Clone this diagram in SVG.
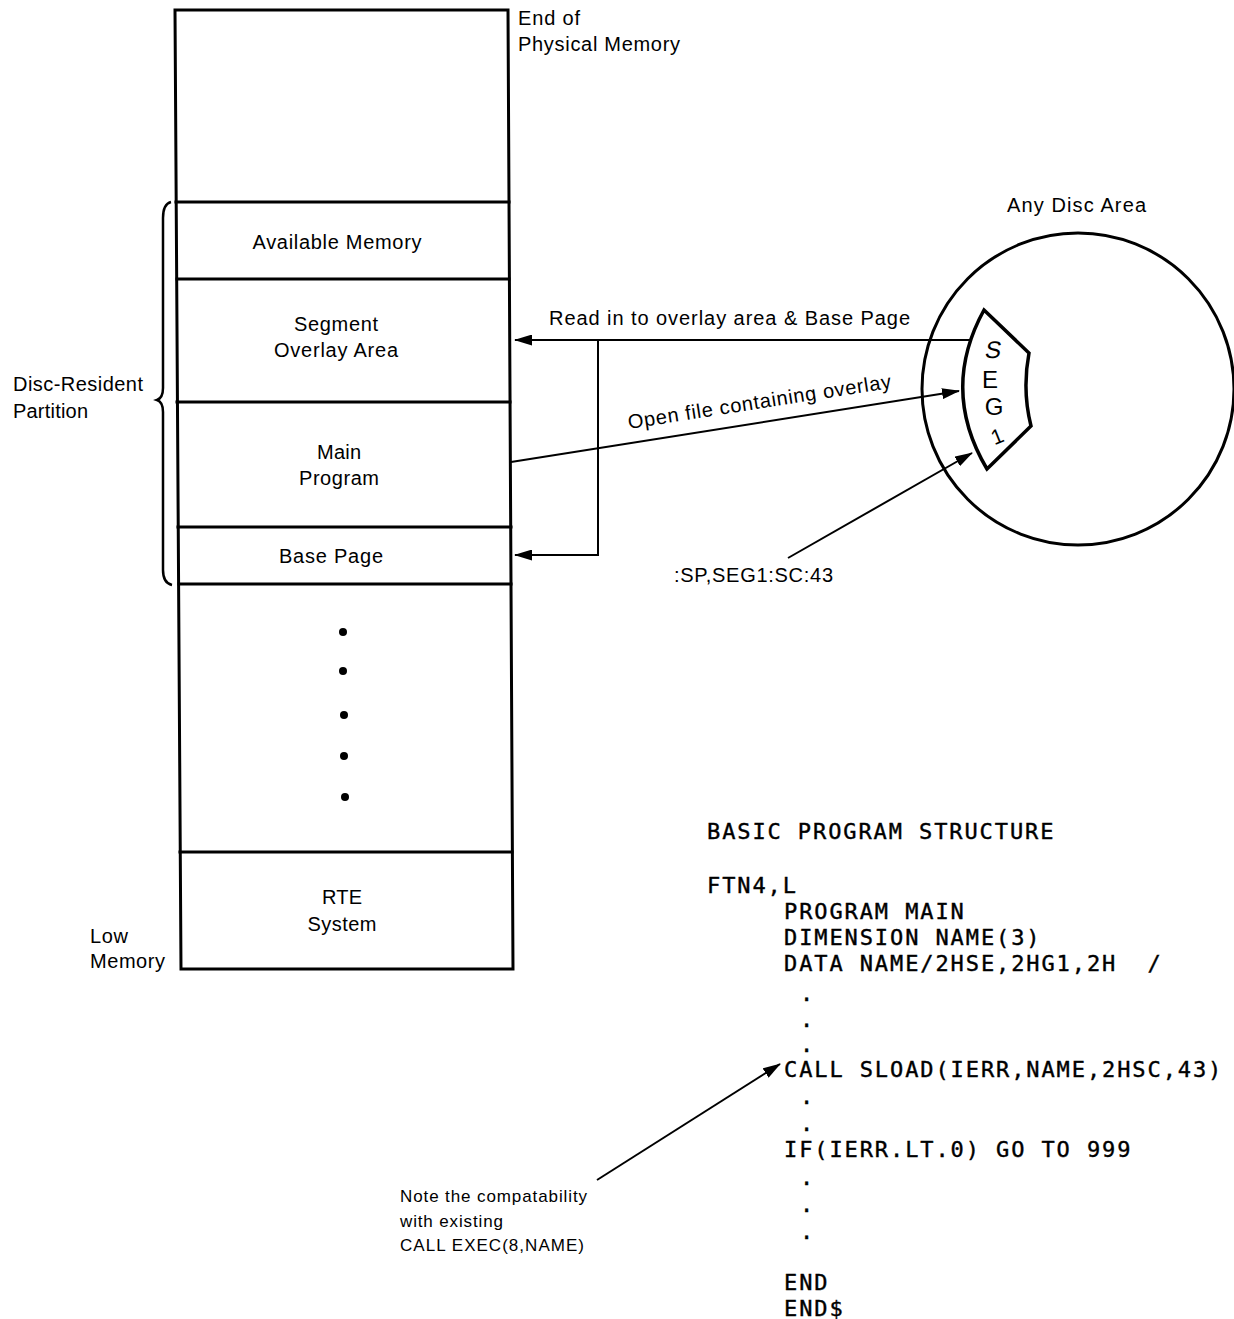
<svg xmlns="http://www.w3.org/2000/svg" width="1234" height="1319" viewBox="0 0 1234 1319">
<style>
.bx{fill:none;stroke:#000;stroke-width:3;stroke-linecap:square}
.ln{fill:none;stroke:#000;stroke-width:2}
.t{font-family:"Liberation Sans",Arial,sans-serif;font-size:20px;fill:#000}
.ts{font-family:"Liberation Sans",Arial,sans-serif;font-size:17px;fill:#000}
.sg{font-family:"Liberation Sans",Arial,sans-serif;font-size:24px;fill:#000;text-anchor:middle}
.mono{font-family:"DejaVu Sans Mono","Liberation Mono",monospace;font-size:22px;letter-spacing:1.9px;fill:#000;white-space:pre;stroke:#000;stroke-width:0.4}
.c{text-anchor:middle}
</style>
<defs>
<marker id="ah" markerWidth="18" markerHeight="11" refX="17" refY="5.5" orient="auto" markerUnits="userSpaceOnUse">
<path d="M0,0 L18,5.5 L0,11 Z" fill="#000"/>
</marker>
</defs>
<rect x="0" y="0" width="1234" height="1319" fill="#fff"/>

<g id="memory-column">
<path class="bx" d="M175,10 L508,10 L513,969 L181,969 Z"/>
<g id="end-of-physical-memory">
<text class="t" x="518" y="25" textLength="62" lengthAdjust="spacing">End of</text>
<text class="t" x="518" y="51" textLength="162" lengthAdjust="spacing">Physical Memory</text>
</g>
<g id="available-memory">
<line class="bx" x1="176" y1="202" x2="509" y2="202"/>
<text class="t c" x="337" y="249" textLength="169" lengthAdjust="spacing">Available Memory</text>
</g>
<g id="segment-overlay-area">
<line class="bx" x1="177" y1="279" x2="509" y2="279"/>
<text class="t c" x="336" y="331" textLength="84" lengthAdjust="spacing">Segment</text>
<text class="t c" x="336" y="357" textLength="124" lengthAdjust="spacing">Overlay Area</text>
</g>
<g id="main-program">
<line class="bx" x1="177" y1="402" x2="510" y2="402"/>
<text class="t c" x="339" y="459" textLength="44" lengthAdjust="spacing">Main</text>
<text class="t c" x="339" y="485" textLength="80" lengthAdjust="spacing">Program</text>
</g>
<g id="base-page">
<line class="bx" x1="178" y1="527" x2="511" y2="527"/>
<text class="t c" x="331" y="563" textLength="104" lengthAdjust="spacing">Base Page</text>
<line class="bx" x1="179" y1="584" x2="511" y2="584"/>
</g>
<g id="unused-memory">
<circle cx="343" cy="632" r="4"/>
<circle cx="343" cy="671" r="4"/>
<circle cx="344" cy="715" r="4"/>
<circle cx="344" cy="756" r="4"/>
<circle cx="345" cy="797" r="4"/>
</g>
<g id="rte-system">
<line class="bx" x1="180" y1="852" x2="512" y2="852"/>
<text class="t c" x="342" y="904" textLength="40" lengthAdjust="spacing">RTE</text>
<text class="t c" x="342" y="931" textLength="69" lengthAdjust="spacing">System</text>
</g>
<g id="low-memory">
<text class="t" x="90" y="943" textLength="38" lengthAdjust="spacing">Low</text>
<text class="t" x="90" y="968" textLength="75" lengthAdjust="spacing">Memory</text>
</g>
</g>

<g id="disc-resident-partition">
<path d="M171,202 Q163,204 163,218 L163,388 Q163,398 157,400 Q163,402 163,412 L163,570 Q163,583 172,585" fill="none" stroke="#000" stroke-width="2.5"/>
<text class="t" x="13" y="391" textLength="130" lengthAdjust="spacing">Disc-Resident</text>
<text class="t" x="13" y="418" textLength="75" lengthAdjust="spacing">Partition</text>
</g>

<g id="disc-area">
<text class="t" x="1007" y="212" textLength="139" lengthAdjust="spacing">Any Disc Area</text>
<circle cx="1078" cy="389" r="156" fill="none" stroke="#000" stroke-width="3"/>
</g>

<g id="seg1">
<path d="M984,310 L1029,353 Q1022,390 1031,426 L987,469 Q940,390 984,310 Z" fill="#fff" stroke="#000" stroke-width="3.5" stroke-linejoin="miter"/>
<text class="sg" x="0" y="0" transform="translate(992,358) skewX(-10)">S</text>
<text class="sg" x="990" y="388">E</text>
<text class="sg" x="994" y="415">G</text>
<text class="sg" x="0" y="0" style="font-size:21px" transform="translate(1000,443) rotate(-22)">1</text>
</g>

<g id="sp-command">
<text class="t" x="674" y="582" textLength="159" lengthAdjust="spacing">:SP,SEG1:SC:43</text>
</g>

<g id="note">
<text class="ts" x="400" y="1202" textLength="187" lengthAdjust="spacing">Note the compatability</text>
<text class="ts" x="400" y="1227" textLength="103" lengthAdjust="spacing">with existing</text>
<text class="ts" x="400" y="1251" textLength="184" lengthAdjust="spacing">CALL EXEC(8,NAME)</text>
</g>

<g id="program-listing">
<text class="mono" x="707" y="839" xml:space="preserve">BASIC PROGRAM STRUCTURE</text>
<text class="mono" x="707" y="893" xml:space="preserve">FTN4,L</text>
<text class="mono" x="784" y="919" xml:space="preserve">PROGRAM MAIN</text>
<text class="mono" x="784" y="945" xml:space="preserve">DIMENSION NAME(3)</text>
<text class="mono" x="784" y="971" xml:space="preserve">DATA NAME/2HSE,2HG1,2H  /</text>
<text class="mono" x="800" y="1001">.</text>
<text class="mono" x="800" y="1027">.</text>
<text class="mono" x="800" y="1052">.</text>
<text class="mono" x="784" y="1077" xml:space="preserve">CALL SLOAD(IERR,NAME,2HSC,43)</text>
<text class="mono" x="800" y="1104">.</text>
<text class="mono" x="800" y="1131">.</text>
<text class="mono" x="784" y="1157" xml:space="preserve">IF(IERR.LT.0) GO TO 999</text>
<text class="mono" x="800" y="1185">.</text>
<text class="mono" x="800" y="1212">.</text>
<text class="mono" x="800" y="1239">.</text>
<text class="mono" x="784" y="1290">END</text>
<text class="mono" x="784" y="1316">END$</text>
</g>

<g id="connectors">
<path class="ln" d="M970,340 L515,340" marker-end="url(#ah)"/>
<path class="ln" d="M598,340 L598,555 L515,555" marker-end="url(#ah)"/>
<text class="t" x="549" y="325" textLength="361" lengthAdjust="spacing">Read in to overlay area &amp; Base Page</text>
<path class="ln" d="M511,462 L959,391" marker-end="url(#ah)"/>
<text class="t" x="0" y="0" textLength="266" lengthAdjust="spacing" transform="translate(629,429) rotate(-8.9)">Open file containing overlay</text>
<path class="ln" d="M788,558 L972,453" marker-end="url(#ah)"/>
<path class="ln" d="M597,1180 L780,1064" marker-end="url(#ah)"/>
</g>
</svg>
